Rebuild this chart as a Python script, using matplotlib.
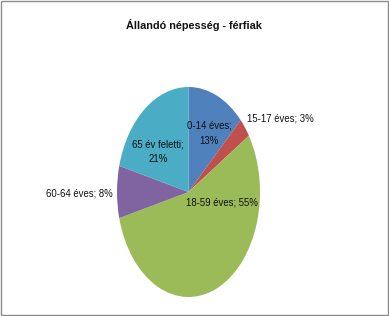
import matplotlib
matplotlib.use("Agg")
import matplotlib.pyplot as plt
from matplotlib.patches import Rectangle

categories = ["0-14 éves", "15-17 éves", "18-59 éves", "60-64 éves", "65 év feletti"]
values = [13, 3, 55, 8, 21]
colors = ["#4F81BD", "#C0504D", "#9BBB59", "#8064A2", "#4BACC6"]
title = "Állandó népesség - férfiak"

plt.rcParams["font.family"] = ["Liberation Sans", "DejaVu Sans"]

fig = plt.figure(figsize=(3.89, 3.16), dpi=100)
fig.patch.set_facecolor("white")
ax = fig.add_axes([0.3008, 0.0601, 0.3676, 0.6646])
wedges, _ = ax.pie(values, colors=colors, startangle=90, counterclock=False,
                   wedgeprops=dict(linewidth=0))
ax.set_aspect("auto")
ax.set_xlim(-1, 1)
ax.set_ylim(-1, 1)
ax.axis("off")

# label layout: (x, y, ha, two-line)
layout = [
    (0.29, 0.56, "center", True),
    (0.82, 0.70, "left", False),
    (0.47, -0.10, "center", False),
    (-1.06, -0.01, "right", False),
    (-0.43, 0.38, "center", True),
]
for cat, val, (x, y, ha, two) in zip(categories, values, layout):
    sep = ";\n" if two else "; "
    ax.text(x, y, f"{cat}{sep}{val}%", ha=ha, va="center", fontsize=6.9,
            color="#111111", linespacing=1.6, clip_on=False)

fig.text(0.499, 0.92, title, ha="center", va="center", fontsize=7.8,
         fontweight="bold", color="#111111")

fig.patches.append(Rectangle((0.002, 0.003), 0.995, 0.994, transform=fig.transFigure,
                             fill=False, edgecolor="#8a8a8a", linewidth=1))
fig.savefig("out.png", dpi=100, facecolor="white")
